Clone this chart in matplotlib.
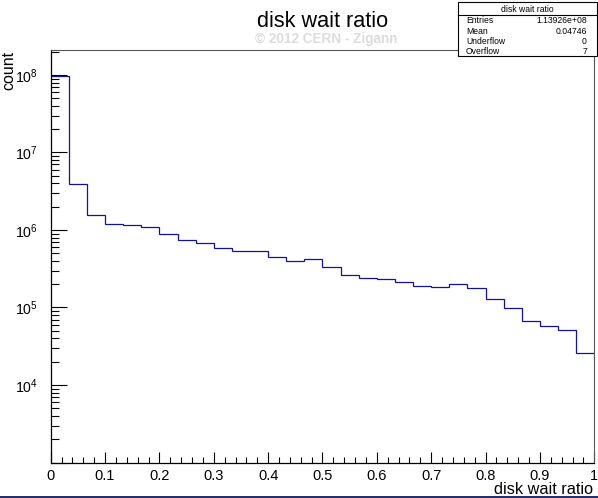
import numpy as np
import matplotlib
matplotlib.use("Agg")
import matplotlib.pyplot as plt
from matplotlib.patches import Rectangle
from matplotlib.lines import Line2D
from matplotlib.ticker import LogLocator, MultipleLocator, NullFormatter, FuncFormatter

plt.rcParams['font.family'] = ['Liberation Sans', 'DejaVu Sans']
plt.rcParams['mathtext.fontset'] = 'custom'
plt.rcParams['mathtext.rm'] = 'Liberation Sans'
plt.rcParams['mathtext.it'] = 'Liberation Sans:italic'
plt.rcParams['mathtext.bf'] = 'Liberation Sans:bold'

# ---- data ----
title = "disk wait ratio"
x_label = "disk wait ratio"
y_label = "count"
n_bins = 30
x_range = (0.0, 1.0)
bin_counts = [9.73e7, 3.9e6, 1.55e6, 1.2e6, 1.15e6, 1.08e6, 8.8e5, 7.5e5, 6.8e5, 5.9e5,
              5.4e5, 5.3e5, 4.5e5, 4.0e5, 4.2e5, 3.33e5, 2.65e5, 2.43e5, 2.31e5, 2.15e5,
              1.91e5, 1.86e5, 2.01e5, 1.77e5, 1.30e5, 9.8e4, 6.7e4, 5.7e4, 5.2e4, 2.6e4]
x_tick_labels = ['0', '0.1', '0.2', '0.3', '0.4', '0.5', '0.6', '0.7', '0.8', '0.9', '1']
stats_labels = ["Entries", "Mean", "Underflow", "Overflow"]
stats_values = ["1.13926e+08", "0.04746", "0", "7"]
watermark = "\u00a9 2012 CERN - Zigann"

W, H = 598, 498
fig = plt.figure(figsize=(W / 100, H / 100), dpi=100)

def fx(x):
    return x / W

def fy(y):
    return 1 - y / H

ax_l, ax_r, ax_t, ax_b = 50.7, 594.3, 50.5, 462.5
ax = fig.add_axes([fx(ax_l), fy(ax_b), fx(ax_r - ax_l), (ax_b - ax_t) / H])

edges = np.linspace(x_range[0], x_range[1], n_bins + 1)
ax.stairs(bin_counts, edges, baseline=None, color='#1212a0', lw=0.9)

ax.set_yscale('log')
ax.set_xlim(*x_range)
ax.set_ylim(1e3, 10 ** 8.316)

ax.set_xticks(np.linspace(0, 1, len(x_tick_labels)))
ax.set_xticklabels(x_tick_labels)
ax.xaxis.set_minor_locator(MultipleLocator(0.02))
ax.yaxis.set_major_locator(LogLocator(base=10, numticks=20))
ax.yaxis.set_minor_locator(LogLocator(base=10, subs=np.arange(2, 10), numticks=20))
ax.yaxis.set_minor_formatter(NullFormatter())
ax.yaxis.set_major_formatter(FuncFormatter(
    lambda v, p: '' if v < 5e3 else r'$\mathdefault{10^{%d}}$' % int(round(np.log10(v)))))

ax.tick_params(axis='x', which='major', direction='in', length=8, width=0.8,
               labelsize=10.5, pad=5, top=False)
ax.tick_params(axis='x', which='minor', direction='in', length=4, width=0.8, top=False)
ax.tick_params(axis='y', which='major', direction='in', length=11.5, width=0.8,
               labelsize=10.2, pad=9, right=False)
ax.tick_params(axis='y', which='minor', direction='in', length=6, width=0.8, right=False)

for s in ['left', 'bottom']:
    ax.spines[s].set_linewidth(0.9)
    ax.spines[s].set_color('black')
for s in ['top', 'right']:
    ax.spines[s].set_linewidth(0.8)
    ax.spines[s].set_color('#555555')

# titles and labels
fig.text(fx(322.5), fy(27), title, ha='center', va='baseline', fontsize=15.6)
fig.text(fx(326.5), fy(42.5), watermark, ha='center', va='baseline', fontsize=9.8,
         fontweight='bold', color='#dcdcdc')
fig.text(fx(13.6), fy(51), y_label, rotation=90, rotation_mode='anchor',
         ha='right', va='baseline', fontsize=11.5)
fig.text(fx(592.7), fy(494), x_label, ha='right', va='baseline', fontsize=11.7)

# stats box
bx_l, bx_r, bx_t, bx_b = 458.3, 596.5, 2.5, 56.0
fig.patches.append(Rectangle((fx(bx_l), fy(bx_b)), fx(bx_r - bx_l), (bx_b - bx_t) / H,
                             transform=fig.transFigure, facecolor='white',
                             edgecolor='black', lw=0.8, zorder=5))
fig.lines.append(Line2D([fx(bx_l), fx(bx_r)], [fy(15.5), fy(15.5)],
                        transform=fig.transFigure, color='black', lw=0.8, zorder=6))
fig.text(fx((bx_l + bx_r) / 2), fy(9), title, ha='center', va='center',
         fontsize=6.2, zorder=7)
row_y = [20.7, 31.2, 41.5, 51.7]
for lab, val, yy in zip(stats_labels, stats_values, row_y):
    fig.text(fx(466), fy(yy), lab, ha='left', va='center', fontsize=6.2, zorder=7)
    fig.text(fx(587), fy(yy), val, ha='right', va='center', fontsize=6.2, zorder=7)

# bottom border strip
fig.patches.append(Rectangle((0, 0), 1, 2 / H, transform=fig.transFigure,
                             facecolor='#25306e', edgecolor='none', zorder=10))

fig.savefig('out.png', dpi=100)
